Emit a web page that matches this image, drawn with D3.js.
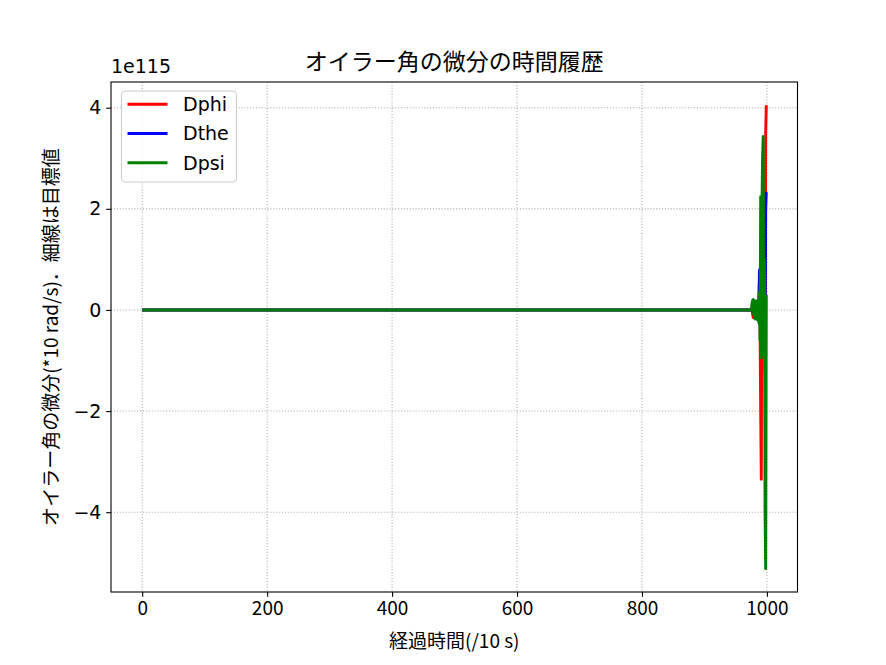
<!doctype html>
<html>
<head>
<meta charset="utf-8" />
<title>オイラー角の微分の時間履歴</title>
<script src="https://cdn.jsdelivr.net/npm/d3@7"></script>
<style>
  html, body { margin: 0; padding: 0; background: #fff; }
  svg { display: block; }
  text { fill: #000; }
</style>
</head>
<body>
<script>
// time steps (/10 s); the run is flat at 0 until ~975, then diverges
const time = [0, 974, 975, 976, 977, 978, 979, 980, 981, 982, 983, 984, 985, 986, 987,
              988, 989, 990, 991, 992, 993, 994, 995, 996, 997, 998, 999];
// values in units of 1e115 rad/s
const dphi = [0, 0, 0, 0.02, -0.08, -0.15, 0.05, -0.1, 0.08, -0.08, 0.1, -0.1, 0.12, -0.12, 0.15,
              0.6, -0.3, -2.0, -3.35, 0.9, -0.7, 1.6, -0.8, 0.8, -1.2, 3.5, 4.05];
const dthe = [0, 0, 0, 0.03, 0.1, 0.2, -0.05, 0.08, -0.06, 0.1, -0.1, 0.12, -0.12, 0.15, -0.2,
              0.79, -0.3, 0.5, -0.6, 0.7, -0.5, 1.0, -0.7, 1.2, -0.9, 2.0, 2.33];
const dpsi = [0, 0, 0, 0.12, 0.18, 0.2, -0.1, 0.18, -0.18, 0.18, -0.18, 0.15, -0.2, 0.2, -0.25,
              0.35, -0.6, 2.24, -0.95, 2.0, 3.0, 3.43, -0.9, 1.0, -4.0, -5.12, 0.3];
const seriesNames = ["Dphi", "Dthe", "Dpsi"];
const seriesColors = ["#ff0000", "#0000ff", "#008000"];
const xTicks = [0, 200, 400, 600, 800, 1000];
const yTicks = [-4, -2, 0, 2, 4];

const W = 886, H = 665;
const m = {left: 111, right: 797.5, top: 82, bottom: 592};
const jp = "'Noto Sans CJK JP', sans-serif";
const dv = "'DejaVu Sans', sans-serif";

const allSeries = [dphi, dthe, dpsi];

// matplotlib-like 5% margins
const xMin = d3.min(time), xMax = d3.max(time);
const xPad = (xMax - xMin) * 0.05;
const yMin = d3.min(allSeries.flat()), yMax = d3.max(allSeries.flat());
const yPad = (yMax - yMin) * 0.05;

const x = d3.scaleLinear().domain([xMin - xPad, xMax + xPad]).range([m.left, m.right]);
const y = d3.scaleLinear().domain([yMin - yPad, yMax + yPad]).range([m.bottom, m.top]);

const svg = d3.select("body").append("svg")
  .attr("width", W).attr("height", H);

// grid
const grid = svg.append("g")
  .attr("stroke", "#b0b0b0").attr("stroke-width", 1.1)
  .attr("stroke-dasharray", "1.1,1.8");
grid.selectAll("line.gx").data(xTicks).join("line")
  .attr("x1", d => x(d)).attr("x2", d => x(d))
  .attr("y1", m.top).attr("y2", m.bottom);
grid.selectAll("line.gy").data(yTicks).join("line")
  .attr("x1", m.left).attr("x2", m.right)
  .attr("y1", d => y(d)).attr("y2", d => y(d));

// lines
svg.append("clipPath").attr("id", "clip")
  .append("rect").attr("x", m.left).attr("y", m.top)
  .attr("width", m.right - m.left).attr("height", m.bottom - m.top);

const line = d3.line().x(d => x(d[0])).y(d => y(d[1]));
svg.append("g").attr("clip-path", "url(#clip)")
  .selectAll("path").data(allSeries).join("path")
  .attr("d", s => line(time.map((t, i) => [t, s[i]])))
  .attr("fill", "none")
  .attr("stroke", (s, i) => seriesColors[i])
  .attr("stroke-width", 2.9)
  .attr("stroke-linejoin", "round");

// spines
svg.append("rect")
  .attr("x", m.left).attr("y", m.top)
  .attr("width", m.right - m.left).attr("height", m.bottom - m.top)
  .attr("fill", "none").attr("stroke", "#000").attr("stroke-width", 1.1);

// x axis
const xAxis = svg.append("g").attr("transform", `translate(0,${m.bottom})`)
  .call(d3.axisBottom(x).tickValues(xTicks).tickSize(4.8).tickPadding(4.8).tickFormat(d3.format("d")));
xAxis.select(".domain").remove();
xAxis.selectAll(".tick line").attr("stroke", "#000").attr("stroke-width", 1.1);
xAxis.selectAll(".tick text").attr("font-family", jp).attr("font-size", 19).attr("fill", "#000");

// y axis
const yAxis = svg.append("g").attr("transform", `translate(${m.left},0)`)
  .call(d3.axisLeft(y).tickValues(yTicks).tickSize(4.8).tickPadding(4.8)
    .tickFormat(d => d < 0 ? "\u2212" + Math.abs(d) : String(d)));
yAxis.select(".domain").remove();
yAxis.selectAll(".tick line").attr("stroke", "#000").attr("stroke-width", 1.1);
yAxis.selectAll(".tick text").attr("font-family", dv).attr("font-size", 19).attr("fill", "#000");

// offset text
svg.append("text").attr("x", m.left).attr("y", 73)
  .attr("font-family", dv).attr("font-size", 19).text("1e115");

// title
svg.append("text").attr("x", (m.left + m.right) / 2).attr("y", 70)
  .attr("text-anchor", "middle").attr("font-family", jp).attr("font-size", 23)
  .text("オイラー角の微分の時間履歴");

// x label
svg.append("text").attr("x", (m.left + m.right) / 2).attr("y", 648)
  .attr("text-anchor", "middle").attr("font-family", jp).attr("font-size", 19)
  .text("経過時間(/10 s)");

// y label
svg.append("text")
  .attr("transform", `translate(58,${(m.top + m.bottom) / 2}) rotate(-90)`)
  .attr("text-anchor", "middle").attr("font-family", jp).attr("font-size", 19)
  .text("オイラー角の微分(*10 rad/s)．細線は目標値");

// legend
const lg = svg.append("g");
lg.append("rect").attr("x", 121.5).attr("y", 91).attr("width", 115).attr("height", 91)
  .attr("rx", 4).attr("fill", "#fff").attr("fill-opacity", 0.8)
  .attr("stroke", "#cccccc").attr("stroke-width", 1.1);
const items = lg.selectAll("g.item").data(seriesNames).join("g")
  .attr("transform", (d, i) => `translate(0,${104.3 + i * 29.2})`);
items.append("line").attr("x1", 127.5).attr("x2", 167.5)
  .attr("stroke", (d, i) => seriesColors[i]).attr("stroke-width", 2.9);
items.append("text").attr("x", 183).attr("dy", "0.36em")
  .attr("font-family", dv).attr("font-size", 19).text(d => d);
</script>
</body>
</html>
